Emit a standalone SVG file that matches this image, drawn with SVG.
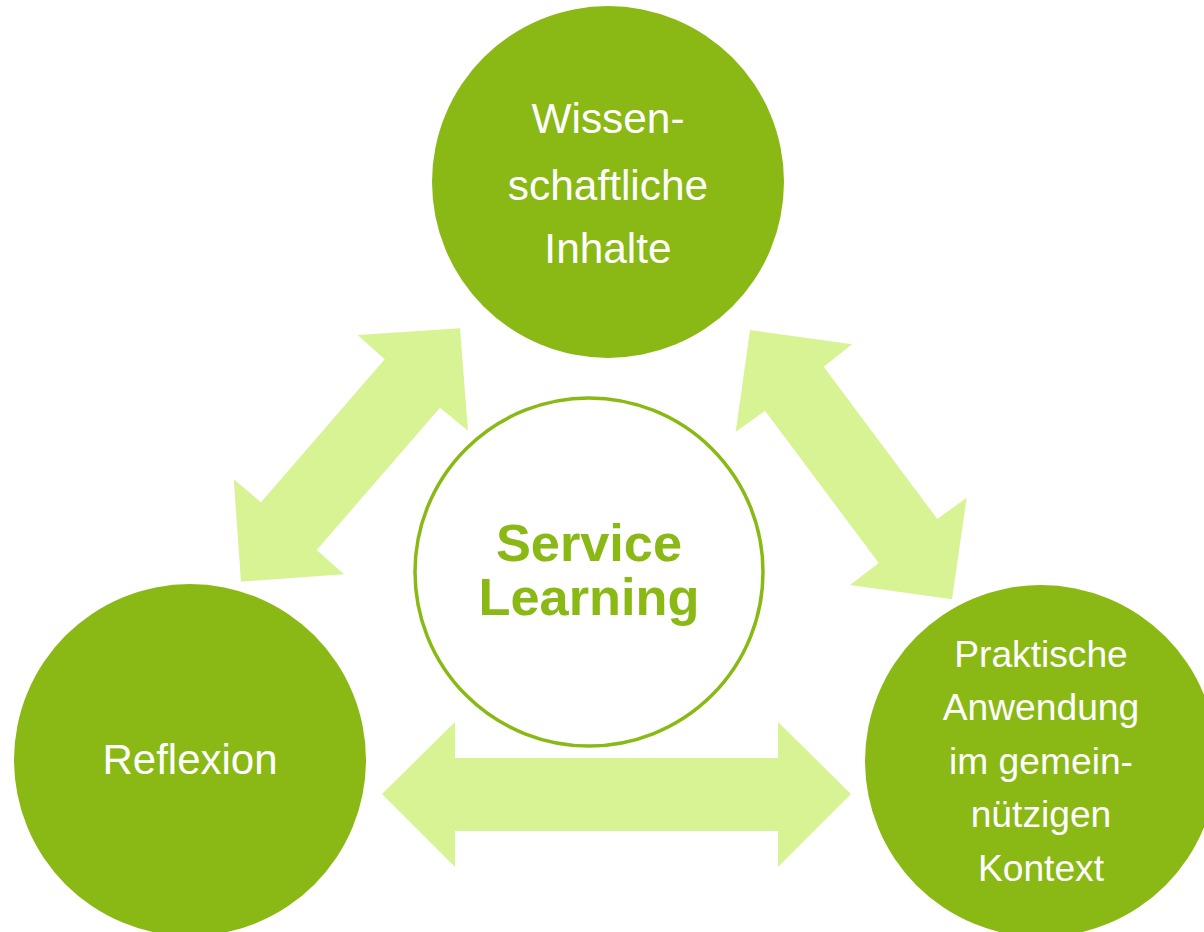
<svg xmlns="http://www.w3.org/2000/svg" width="1204" height="932" viewBox="0 0 1204 932">
<style>
.node{fill:#8AB915;}
.arrow{fill:#D7F394;}
.lbl{font-family:"Liberation Sans",Arial,sans-serif;fill:#FFFFFF;text-anchor:middle;}
.center{font-family:"Liberation Sans",Arial,sans-serif;fill:#8AB915;font-weight:bold;text-anchor:middle;font-size:52.3px;}
</style>
<rect width="1204" height="932" fill="#FFFFFF"/>
<g id="connectors">
<polygon class="arrow" points="357.7,335 460,328.3 468,430.7 440,407.7 316.7,550 344,574.3 241,581.7 233.7,479.3 261,502.3 384.7,359.3"/>
<polygon class="arrow" points="750,330 852,344.3 823.7,366.7 937.3,519 966.7,497.7 952,599.3 850,585 878.7,563 765,410.7 735.7,431.7"/>
<polygon class="arrow" points="382,794 455,722 455,758 778,758 778,722 851,794 778,867 778,831 455,831 455,867"/>
</g>
<g id="node-center">
<circle cx="589" cy="572" r="174" fill="#FFFFFF" stroke="#8AB915" stroke-width="3.5"/>
<text class="center" x="589" y="561">Service</text>
<text class="center" x="589" y="615">Learning</text>
</g>
<g id="node-wissen">
<circle class="node" cx="608" cy="182" r="176"/>
<text class="lbl" font-size="42.4" x="608" y="133">Wissen-</text>
<text class="lbl" font-size="42.4" x="608" y="200">schaftliche</text>
<text class="lbl" font-size="42.4" x="608" y="263">Inhalte</text>
</g>
<g id="node-reflexion">
<circle class="node" cx="190" cy="760" r="176"/>
<text class="lbl" font-size="42" x="190" y="774">Reflexion</text>
</g>
<g id="node-praxis">
<circle class="node" cx="1041" cy="761" r="176"/>
<text class="lbl" font-size="37.2" x="1041" y="666.5">Praktische</text>
<text class="lbl" font-size="37.2" x="1041" y="720">Anwendung</text>
<text class="lbl" font-size="37.2" x="1041" y="773.5">im gemein-</text>
<text class="lbl" font-size="37.2" x="1041" y="827">nützigen</text>
<text class="lbl" font-size="37.2" x="1041" y="880.5">Kontext</text>
</g>
</svg>
